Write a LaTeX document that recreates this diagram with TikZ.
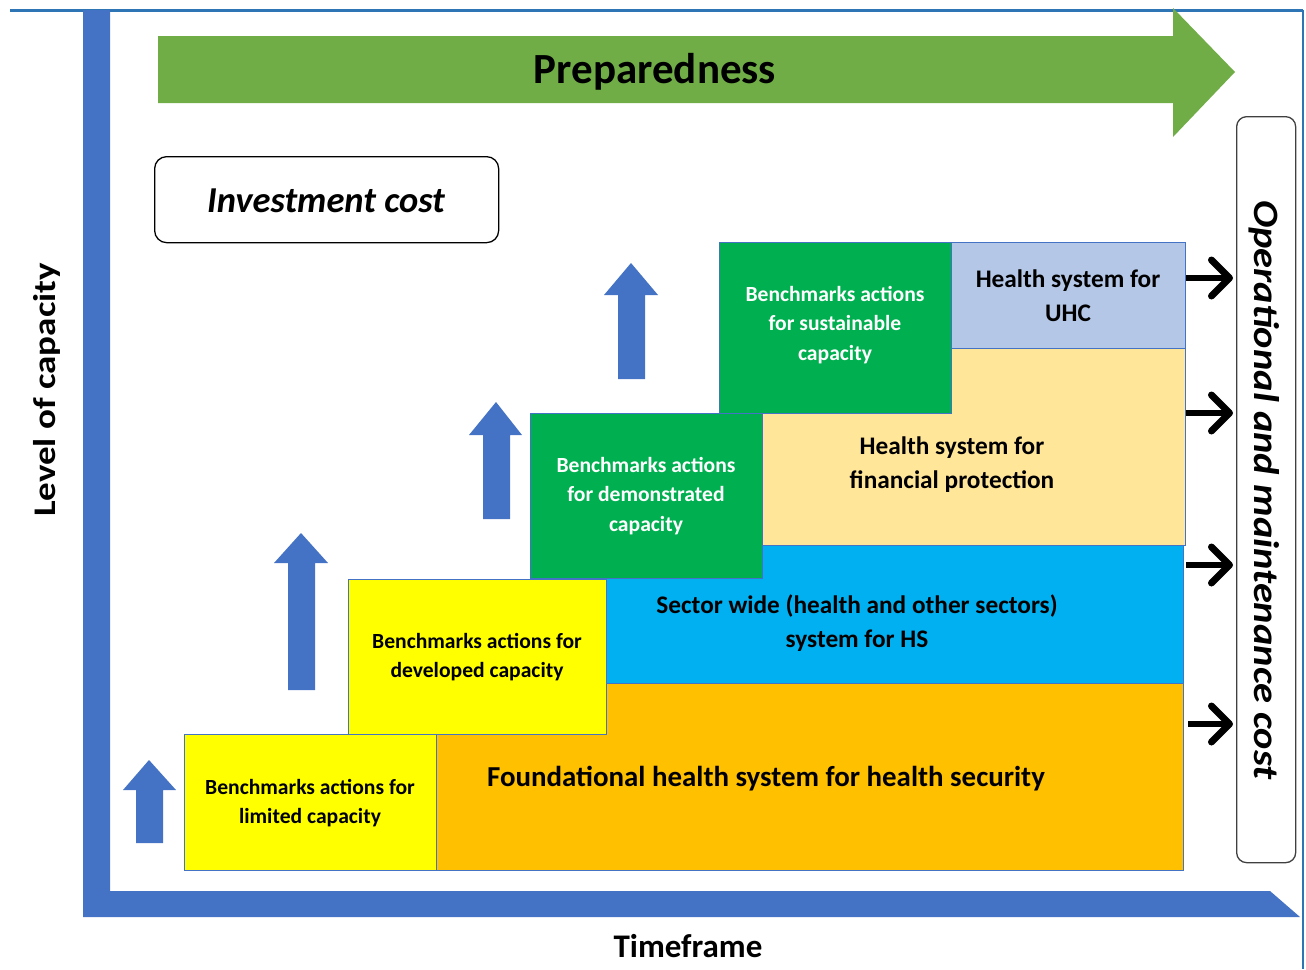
\documentclass[tikz,border=0pt]{standalone}
\usepackage{fontspec}
\setmainfont{Carlito}
\usetikzlibrary{arrows.meta}
\definecolor{axisblue}{HTML}{4472C4}
\definecolor{frameblue}{HTML}{2E75B6}
\definecolor{prepgreen}{HTML}{70AD47}
\definecolor{orangeb}{HTML}{FFC000}
\definecolor{cyanb}{HTML}{00B0F0}
\definecolor{lightyel}{HTML}{FFE699}
\definecolor{lightblu}{HTML}{B4C7E7}
\definecolor{yellowb}{HTML}{FFFF00}
\definecolor{greenb}{HTML}{00B050}
\tikzset{
  blk/.style={draw=axisblue, line width=0.9pt, anchor=north west, inner sep=0pt, outer sep=0pt},
  btxt/.style={font=\bfseries\fontsize{21.6}{29.5}\selectfont, align=center, inner sep=0pt},
  htxt/.style={font=\bfseries\fontsize{25.3}{34}\selectfont, align=center, inner sep=0pt},
  wtxt/.style={btxt, text=white},
  uparr/.style={fill=axisblue, draw=none},
  costarr/.style={line width=6pt, -{Straight Barb[length=18pt,width=36pt,line width=7pt,round]}},
}
\begin{document}
\begin{tikzpicture}[x=1pt,y=-1pt]
\useasboundingbox (0,0) rectangle (1306,969);
% frame lines
\draw[frameblue, line width=3pt] (10,10) -- (1303,10);
\draw[frameblue, line width=2pt] (1303,10) -- (1303,969);
% axes
\fill[axisblue] (83,10) -- (110,10) -- (110,891) -- (1270,891) -- (1300,917) -- (83,917) -- cycle;
% preparedness arrow
\fill[prepgreen] (158,36) -- (1173,36) -- (1173,8) -- (1235,72) -- (1173,137) -- (1173,103) -- (158,103) -- cycle;
\node[font=\bfseries\fontsize{43}{50}\selectfont, inner sep=0pt] (prep) at (655,72) {Preparedness};
% investment cost
\node[draw=black, line width=1.3pt, rounded corners=12pt, minimum width=344pt, minimum height=86pt, anchor=north west] (inv) at (154,156) {};
\node[font=\bfseries\itshape\fontsize{36.5}{40}\selectfont, inner sep=0pt] (invt) at (326,201) {Investment cost};
% operational box
\node[draw=black!75, line width=1.3pt, rounded corners=10pt, minimum width=59pt, minimum height=746pt, anchor=north west] (op) at (1236,116) {};
\node[rotate=-90, inner sep=0pt] (opt) at (1264,490) {\scalebox{1}[0.88]{\bfseries\itshape\fontsize{40.5}{44}\selectfont Operational and maintenance cost}};
% blocks
\node[blk, fill=orangeb, minimum width=835pt, minimum height=187pt] (found) at (348,683) {};
\node[blk, fill=cyanb, minimum width=653pt, minimum height=138pt] (sector) at (530,545) {};
\node[blk, fill=lightyel, minimum width=466pt, minimum height=197pt] (fin) at (719,348) {};
\node[blk, fill=lightblu, minimum width=234pt, minimum height=106pt] (uhc) at (951,242) {};
\node[blk, fill=yellowb, minimum width=258pt, minimum height=155pt] (dev) at (348,579) {};
\node[blk, fill=yellowb, minimum width=252pt, minimum height=136pt] (lim) at (184,734) {};
\node[blk, fill=greenb, minimum width=232pt, minimum height=165pt] (dem) at (530,413) {};
\node[blk, fill=greenb, minimum width=232pt, minimum height=171pt] (sus) at (719,242) {};
% block texts
\node[font=\bfseries\fontsize{28.9}{34}\selectfont, inner sep=0pt] (foundt) at (766,779) {Foundational health system for health security};
\node[htxt] (sectort) at (857,623) {Sector wide (health and other sectors)\\system for HS};
\node[htxt] (fint) at (952,465) {Health system for\\financial protection};
\node[htxt] (uhct) at (1068,296) {Health system for\\UHC};
\node[wtxt] (sust) at (835,325) {Benchmarks actions\\for sustainable\\capacity};
\node[wtxt] (demt) at (646,496) {Benchmarks actions\\for demonstrated\\capacity};
\node[btxt] (devt) at (477,657) {Benchmarks actions for\\developed capacity};
\node[btxt] (limt) at (310,803) {Benchmarks actions for\\limited capacity};
% up arrows
\fill[uparr] (136,843) -- (136,790) -- (123,790) -- (149,760) -- (176,790) -- (163,790) -- (163,843) -- cycle;
\fill[uparr] (288,690) -- (288,563) -- (274,563) -- (301,533) -- (328,563) -- (315,563) -- (315,690) -- cycle;
\fill[uparr] (483,519) -- (483,435) -- (469,435) -- (496,402) -- (522,435) -- (510,435) -- (510,519) -- cycle;
\fill[uparr] (618,379) -- (618,295) -- (604,295) -- (631,263) -- (658,295) -- (645,295) -- (645,379) -- cycle;
% cost arrows
\coordinate (c1) at (1186,278);
\coordinate (c2) at (1186,413);
\coordinate (c3) at (1186,565);
\coordinate (c4) at (1188,724);
\foreach \c in {c1,c2,c3,c4}{
  \draw[costarr] (\c) -- ([xshift=-3pt]\c -| op.west);
}
% axis labels
\node[rotate=90, inner sep=0pt] (ylab) at (47,390) {\scalebox{1}[0.85]{\bfseries\fontsize{37}{40}\selectfont Level of capacity}};
\node[font=\bfseries\fontsize{33}{38}\selectfont, inner sep=0pt] (xlab) at (688,946) {Timeframe};
\end{tikzpicture}
\end{document}
